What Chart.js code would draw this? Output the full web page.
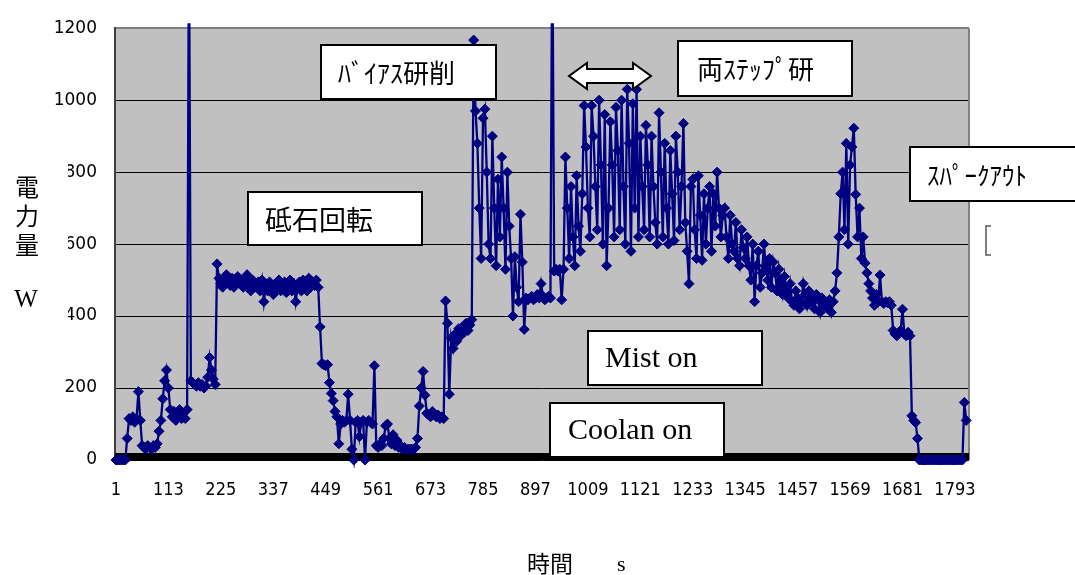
<!DOCTYPE html>
<html>
<head>
  <title>電力量</title>
  <meta charset="utf-8">
  <style type="text/css">
    html, body {
      margin: 0;
      padding: 0;
      background: #fff;
    }
    #chart {
      display: block;
    }
  </style>
  <script src="https://cdn.jsdelivr.net/npm/chart.js@4.4.1/dist/chart.umd.min.js"></script>
</head>
<body>
  <canvas id="chart" width="1075" height="575"></canvas>
  <script>

    // Data (one sample every 4 s, starting at 1 s)
    var SAMPLE_START = 1
      , SAMPLE_STEP = 4;

    var power = [
      // 1 s - idle, first start
      0, 0, 0, 0, 0, 0, 60, 115, 110, 120, 105, 115, 190, 110, 40,
      35, 30, 40, 35, 30, 40, 35,
      45, 80, 110, 170, 220, 250, 200, 140, 120, 135, 110, 125, 140, 115, 130, 115, 140, 1500,
      220, 215, 210, 205, 215, 205, 210, 200, 205, 230, 285, 250, 225, 210, 545,
      // 221 s - wheel turning
      505, 490, 480, 500, 515, 495, 485, 505, 480, 495,
      510, 490, 500, 480, 495, 515, 485, 470, 500, 490,
      480, 495, 470, 500, 440, 485, 470, 495, 480, 460,
      490, 475, 500, 470, 485, 495, 465, 480, 500, 470,
      490, 440, 480, 495, 470, 500, 485, 470, 505, 480,
      495, 485, 500, 480,
      // 437 s
      370, 268, 265, 262, 265, 215, 185, 165, 135, 120,
      45, 100, 110, 105, 110, 183, 110, 30, 0, 105,
      110, 65, 105, 110, 0, 105, 110, 105, 100, 262,
      40, 35, 45, 40, 60, 95, 100, 60, 45, 70,
      40, 55, 35, 40, 30, 35, 30, 30, 30, 30,
      30, 35, 60, 150, 200, 246, 180, 130, 125, 120,
      135, 125, 120, 125, 115, 120, 115, 442, 380, 183,
      340, 310, 350, 330, 365, 345, 370, 355, 380, 360,
      375, 390, 1167,
      // 769 s - bias grinding
      970, 880, 700, 560, 950, 975, 800, 600, 560, 900,
      700, 540, 780, 620, 842, 700, 530, 800, 650, 560,
      400, 565, 480, 440, 683, 550, 363, 450,
      445, 450, 455, 445, 450, 460, 450, 490, 455, 445, 450, 455, 450, 1500,
      525, 530, 525, 530, 445, 530, 842,
      700, 560, 760, 620, 540, 790, 650, 580, 740,
      // 1001 s - double step grinding
      985, 870, 700, 620, 985, 900, 760, 640, 1000, 820,
      600, 960, 540, 700, 940, 820, 620, 980, 860, 640,
      1000, 760, 600, 1030, 880, 580, 990, 700, 1030, 620,
      900, 760, 640, 930, 820, 620, 900, 760, 660, 600,
      965, 800, 620, 880, 700, 600, 860, 740, 610, 900,
      800, 640, 760, 935, 660, 580, 490, 760,
      780, 640, 560, 790, 680, 555, 740, 600, 700, 760,
      580, 740, 650, 800, 700, 620, 680,
      // 1301 s
      700, 620, 560, 680, 600, 580, 660, 560, 540, 640,
      590, 560, 620, 540, 500, 600, 440, 540, 580, 480, 520, 600,
      540, 500, 560, 480, 550, 520, 470, 530, 490, 460,
      510, 470, 450, 490, 440, 430, 470, 450, 420,
      440, 490, 460, 430, 470, 450, 440, 420, 460, 445,
      410, 450, 430, 440, 420, 445, 410, 440,
      // 1537 s - spark out
      470, 520, 620, 740, 800, 640, 880, 600, 820, 870, 922,
      738, 620, 700, 560, 620, 547, 520, 490, 470,
      450, 430, 460, 440, 514, 440, 435, 440, 437, 440, 430, 360,
      350, 345, 355, 360, 419, 350, 345, 355, 345, 123, 110, 104, 60,
      // 1717 s
      0, 0, 0, 0, 0, 0, 0, 0, 0, 0, 0, 0,
      0, 0, 0, 0, 0, 0, 0, 0, 0, 0, 0, 0,
      160, 110
    ];

    // black band along the bottom (coolant / mist level)
    var baseTimes = [-1, 1823]
      , baseValues = [9.5, 9.5];

    var timeTicks = [1, 113, 225, 337, 449, 561, 673, 785, 897, 1009, 1121, 1233, 1345, 1457, 1569, 1681, 1793]
      , powerTicks = [0, 200, 400, 600, 800, 1000, 1200];

    // helpers

    function points(xs, ys) {
      var out = [];
      for (var i = 0; i < ys.length; i++) out.push({x: xs[i], y: ys[i]});
      return out;
    }

    function sampleTimes(n) {
      var xs = [];
      for (var i = 0; i < n; i++) xs.push(SAMPLE_START + i * SAMPLE_STEP);
      return xs;
    }

    var NAVY = '#000080'
      , JP = "'Noto Sans CJK JP', sans-serif"
      , SERIF = "'Liberation Serif', serif";

    // plot background, right border
    var plotFrame = {
      id: 'plotFrame',
      beforeDraw: function(chart) {
        var a = chart.chartArea, ctx = chart.ctx;
        ctx.save();
        ctx.fillStyle = '#c0c0c0';
        ctx.fillRect(a.left, a.top, a.right - a.left, a.bottom - a.top);
        ctx.restore();
      },
      beforeDatasetsDraw: function(chart) {
        var a = chart.chartArea, ctx = chart.ctx;
        ctx.save();
        ctx.strokeStyle = '#808080';
        ctx.lineWidth = 2;
        ctx.beginPath();
        ctx.moveTo(a.right, a.top);
        ctx.lineTo(a.right, a.bottom);
        ctx.stroke();
        ctx.restore();
      }
    };

    function textBox(ctx, x, y, w, h, label, font, tx) {
      ctx.fillStyle = '#fff';
      ctx.fillRect(x, y, w, h);
      ctx.strokeStyle = '#000';
      ctx.lineWidth = 2;
      ctx.strokeRect(x, y, w, h);
      ctx.fillStyle = '#000';
      ctx.font = font;
      ctx.textAlign = 'left';
      ctx.textBaseline = 'middle';
      ctx.fillText(label, tx, y + h / 2 + 1);
    }

    // callouts, arrow and axis titles
    var callouts = {
      id: 'callouts',
      afterDraw: function(chart) {
        var ctx = chart.ctx;
        ctx.save();

        textBox(ctx, 321, 45, 175, 54, 'ﾊﾞｲｱｽ研削', '26px ' + JP, 338);
        textBox(ctx, 678, 41, 174, 55, '両ｽﾃｯﾌﾟ研', '26px ' + JP, 697);
        textBox(ctx, 248, 192, 174, 53, '砥石回転', '27px ' + JP, 265);
        textBox(ctx, 910, 147, 170, 54, 'ｽﾊﾟｰｸｱｳﾄ', '25px ' + JP, 927);
        textBox(ctx, 588, 331, 174, 54, 'Mist on', '30px ' + SERIF, 605);
        textBox(ctx, 550, 403, 174, 54, 'Coolan on', '30px ' + SERIF, 568);

        // double arrow
        ctx.beginPath();
        ctx.moveTo(569, 76);
        ctx.lineTo(587, 63);
        ctx.lineTo(587, 69);
        ctx.lineTo(633, 69);
        ctx.lineTo(633, 63);
        ctx.lineTo(651, 76);
        ctx.lineTo(633, 89);
        ctx.lineTo(633, 83);
        ctx.lineTo(587, 83);
        ctx.lineTo(587, 89);
        ctx.closePath();
        ctx.fillStyle = '#fff';
        ctx.fill();
        ctx.strokeStyle = '#000';
        ctx.lineWidth = 2;
        ctx.stroke();

        // small bracket right of the plot
        ctx.beginPath();
        ctx.moveTo(991, 226);
        ctx.lineTo(986, 226);
        ctx.lineTo(986, 255);
        ctx.lineTo(991, 255);
        ctx.strokeStyle = '#555';
        ctx.lineWidth = 1.5;
        ctx.stroke();

        // y title sits on a white box that hides part of the tick labels
        ctx.fillStyle = '#fff';
        ctx.fillRect(0, 152, 68, 175);
        ctx.fillStyle = '#000';
        ctx.textAlign = 'center';
        ctx.textBaseline = 'middle';
        ctx.font = '24px ' + JP;
        ctx.fillText('電', 27, 187);
        ctx.fillText('力', 27, 216);
        ctx.fillText('量', 27, 245);
        ctx.font = '25px ' + SERIF;
        ctx.fillText('W', 26, 300);

        // x title
        ctx.textAlign = 'left';
        ctx.font = '23px ' + JP;
        ctx.fillText('時間', 527, 563);
        ctx.font = '22px ' + SERIF;
        ctx.fillText('s', 617, 565);

        ctx.restore();
      }
    };

    var chart = new Chart(document.getElementById('chart'), {
      type: 'line',
      data: {
        datasets: [{
          label: '電力量',
          data: points(sampleTimes(power.length), power),
          borderColor: NAVY,
          borderWidth: 2.3,
          pointStyle: 'rectRot',
          pointRadius: 5,
          pointBackgroundColor: NAVY,
          pointBorderColor: NAVY,
          pointBorderWidth: 1,
          tension: 0,
          clip: {left: 6, top: 5, right: 6, bottom: 8}
        }, {
          label: 'base',
          data: points(baseTimes, baseValues),
          borderColor: '#000',
          borderWidth: 7,
          pointRadius: 0,
          borderCapStyle: 'butt'
        }]
      },
      options: {
        responsive: false,
        animation: false,
        devicePixelRatio: 1,
        layout: {
          padding: {left: 0, right: 106, top: 21, bottom: 0}
        },
        plugins: {
          legend: {display: false},
          tooltip: {enabled: false}
        },
        scales: {
          x: {
            type: 'linear',
            min: -1,
            max: 1823,
            afterBuildTicks: function(scale) {
              scale.ticks = timeTicks.map(function(v) { return {value: v}; });
            },
            afterFit: function(scale) { scale.height = 115; },
            grid: {display: false, drawTicks: false},
            border: {display: false},
            ticks: {
              autoSkip: false,
              maxRotation: 0,
              padding: 20,
              color: '#000',
              font: {family: "'DejaVu Sans Condensed', 'DejaVu Sans'", size: 18},
              callback: function(v) { return String(v); }
            }
          },
          y: {
            min: 0,
            max: 1200,
            afterBuildTicks: function(scale) {
              scale.ticks = powerTicks.map(function(v) { return {value: v}; });
            },
            afterFit: function(scale) { scale.width = 115; },
            grid: {
              drawTicks: false,
              color: function(c) { return c.tick && c.tick.value === 1200 ? '#808080' : '#000'; },
              lineWidth: function(c) { return c.tick && c.tick.value === 1200 ? 2 : 1; }
            },
            border: {display: true, color: '#404040', width: 2},
            ticks: {
              padding: 18,
              color: '#000',
              font: {family: "'DejaVu Sans'", size: 17},
              callback: function(v) { return String(v); }
            }
          }
        }
      },
      plugins: [plotFrame, callouts]
    });

  </script>
</body>
</html>
